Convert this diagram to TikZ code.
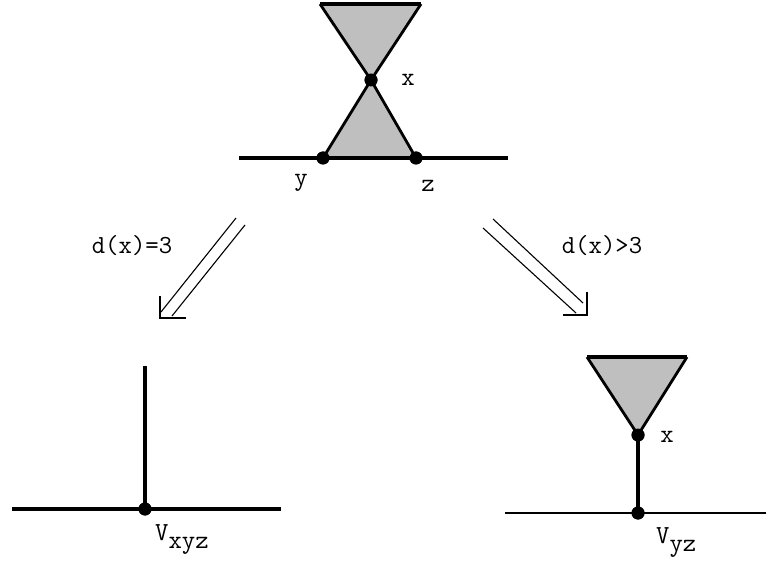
\documentclass[tikz,border=0pt]{standalone}
\begin{document}
\begin{tikzpicture}[x=1pt,y=-1pt,
  dot/.style={circle,fill=black,inner sep=0pt,minimum size=13pt},
  lbl/.style={font=\ttfamily\fontsize{26}{26}\selectfont,inner sep=0pt},
  edge/.style={line width=3.2pt},
  thin/.style={line width=1.8pt},
  arrowline/.style={line width=1.1pt},
  shade/.style={fill=black!25,draw=black,line width=2.2pt,line join=miter}]
\useasboundingbox (0,0) rectangle (766,561);
% ---- top figure
\coordinate (tl) at (320,4);
\coordinate (tr) at (421,4);
\node[dot] (x) at (371,80) {};
\node[dot] (y) at (323,158) {};
\node[dot] (z) at (416,158) {};
\coordinate (hl) at (239,158);
\coordinate (hr) at (508,158);
\fill[black!25] (tl) -- (tr) -- (x.center) -- cycle;
\fill[black!25] (x.center) -- (y.center) -- (z.center) -- cycle;
\draw[line width=2.8pt] (x.center) -- (tl) (x.center) -- (tr) (x.center) -- (y.center) (x.center) -- (z.center);
\draw[edge] (tl) -- (tr);
\draw[edge] (hl) -- (hr);
\node[dot] at (x) {};
\node[dot] at (y) {};
\node[dot] at (z) {};
\node[lbl] (lx) at (408,80) {x};
\node[lbl] (ly) at (301,183) {y};
\node[lbl] (lz) at (428,186) {z};
% ---- left arrow
\coordinate (la1) at (236,218);
\coordinate (lb1) at (161,312);
\coordinate (la2) at (245,225);
\coordinate (lb2) at (172,316);
\coordinate (lh1) at (160,296);
\coordinate (lh0) at (160,318);
\coordinate (lh2) at (186,318);
\draw[arrowline] (la1) -- (lb1) (la2) -- (lb2);
\draw[arrowline] (lh1) -- (lh0) -- (lh2);
\node[lbl] (dl) at (132,246) {d(x)=3};
% ---- right arrow
\coordinate (ra1) at (493,219);
\coordinate (rb1) at (583,303);
\coordinate (ra2) at (483,228);
\coordinate (rb2) at (576,313);
\coordinate (rh1) at (587,292);
\coordinate (rh0) at (587,315);
\coordinate (rh2) at (563,315);
\draw[arrowline] (ra1) -- (rb1) (ra2) -- (rb2);
\draw[arrowline] (rh1) -- (rh0) -- (rh2);
\node[lbl] (dr) at (602,246) {d(x)>3};
% ---- bottom left
\coordinate (vt) at (145,366);
\coordinate (bl1) at (12,509);
\coordinate (bl2) at (281,509);
\node[dot] (vxyz) at (145,509) {};
\draw[edge] (vt) -- (vxyz.center);
\draw[edge] (bl1) -- (bl2);
\node[dot] at (vxyz) {};
\node[lbl,anchor=base west] (lv1) at (155,540) {V\raisebox{-8pt}{xyz}};
% ---- bottom right
\coordinate (btl) at (587,357);
\coordinate (btr) at (687,357);
\node[dot] (x2) at (638,435) {};
\node[dot] (vyz) at (638,513) {};
\coordinate (br1) at (505,513);
\coordinate (br2) at (766,513);
\fill[black!25] (btl) -- (btr) -- (x2.center) -- cycle;
\draw[line width=2.8pt] (x2.center) -- (btl) (x2.center) -- (btr);
\draw[edge] (btl) -- (btr);
\draw[edge] (x2.center) -- (vyz.center);
\draw[thin] (br1) -- (br2);
\node[dot] at (x2) {};
\node[dot] at (vyz) {};
\node[lbl] (lx2) at (667,437) {x};
\node[lbl,anchor=base west] (lv2) at (656,543) {V\raisebox{-8pt}{yz}};
\end{tikzpicture}
\end{document}
